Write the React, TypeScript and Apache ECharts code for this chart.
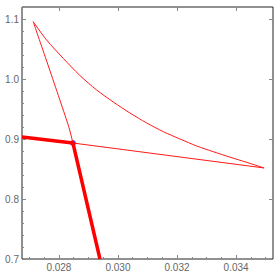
import React, { useEffect, useRef } from "react";
import * as echarts from "echarts";

const xMin = 0.02675;
const xMax = 0.03525;
const yMin = 0.7;
const yMax = 1.12;

const xTickLabels = [0.028, 0.03, 0.032, 0.034];
const yTickLabels = [0.7, 0.8, 0.9, 1.0, 1.1];
const xMinorTicks = [0.027, 0.0275, 0.0285, 0.029, 0.0295, 0.0305, 0.031, 0.0315, 0.0325, 0.033, 0.0335, 0.0345, 0.035];
const yMinorTicks = [0.72, 0.74, 0.76, 0.78, 0.82, 0.84, 0.86, 0.88, 0.92, 0.94, 0.96, 0.98, 1.02, 1.04, 1.06, 1.08, 1.12];

const upperCurve: [number, number][] = [
  [0.027129, 1.0955],
  [0.027583, 1.065],
  [0.028146, 1.0345],
  [0.028712, 1.0058],
  [0.029278, 0.9817],
  [0.029841, 0.9617],
  [0.030407, 0.9433],
  [0.030973, 0.9267],
  [0.031536, 0.9122],
  [0.032102, 0.9],
  [0.032668, 0.8883],
  [0.033231, 0.8788],
  [0.033797, 0.8697],
  [0.034363, 0.861],
  [0.034949, 0.8517],
];
const leftCurve: [number, number][] = [
  [0.027129, 1.0955],
  [0.028315, 0.9233],
  [0.028475, 0.8933],
];
const lowerCurve: [number, number][] = [
  [0.028475, 0.8933],
  [0.034949, 0.8517],
];
const thickCurve: [number, number][] = [
  [0.02675, 0.9033],
  [0.028475, 0.8933],
  [0.02939, 0.7],
];
const bluePoint: [number, number][] = [[0.028475, 0.8933]];

export default function App() {
  const ref = useRef<HTMLDivElement>(null);
  useEffect(() => {
    if (!ref.current) return;
    const chart = echarts.init(ref.current, null, { renderer: "svg" });
    const labelStyle = { color: "#666", fontSize: 10, fontFamily: "Liberation Sans, Arial, sans-serif" };
    const tickLine = { color: "#888", width: 1 };
    chart.setOption({
      animation: false,
      grid: {
        left: 22,
        right: 2,
        top: 7,
        bottom: 13,
        show: true,
        borderColor: "#222",
        borderWidth: 1,
        backgroundColor: "#fff",
      },
      xAxis: [
        {
          type: "value",
          min: xMin,
          max: xMax,
          splitLine: { show: false },
          axisLine: { show: false },
          axisTick: { show: true, inside: true, length: 4, lineStyle: tickLine, customValues: xTickLabels },
          axisLabel: {
            ...labelStyle,
            margin: 3,
            customValues: xTickLabels,
            formatter: (v: number) => v.toFixed(3),
          },
        },
        {
          type: "value",
          min: xMin,
          max: xMax,
          position: "bottom",
          splitLine: { show: false },
          axisLine: { show: false },
          axisTick: { show: true, inside: true, length: 2, lineStyle: tickLine, customValues: xMinorTicks },
          axisLabel: { show: false, customValues: xMinorTicks },
        },
        {
          type: "value",
          min: xMin,
          max: xMax,
          position: "top",
          splitLine: { show: false },
          axisLine: { show: false },
          axisTick: { show: true, inside: true, length: 4, lineStyle: tickLine, customValues: xTickLabels },
          axisLabel: { show: false, customValues: xTickLabels },
        },
      ],
      yAxis: [
        {
          type: "value",
          min: yMin,
          max: yMax,
          splitLine: { show: false },
          axisLine: { show: false },
          axisTick: { show: true, inside: true, length: 4, lineStyle: tickLine, customValues: yTickLabels },
          axisLabel: {
            ...labelStyle,
            margin: 3,
            customValues: yTickLabels,
            formatter: (v: number) => v.toFixed(1),
          },
        },
        {
          type: "value",
          min: yMin,
          max: yMax,
          position: "left",
          splitLine: { show: false },
          axisLine: { show: false },
          axisTick: { show: true, inside: true, length: 2, lineStyle: tickLine, customValues: yMinorTicks },
          axisLabel: { show: false, customValues: yMinorTicks },
        },
        {
          type: "value",
          min: yMin,
          max: yMax,
          position: "right",
          splitLine: { show: false },
          axisLine: { show: false },
          axisTick: { show: true, inside: true, length: 4, lineStyle: tickLine, customValues: yTickLabels },
          axisLabel: { show: false, customValues: yTickLabels },
        },
      ],
      series: [
        {
          type: "line",
          data: upperCurve,
          smooth: 0.3,
          showSymbol: false,
          lineStyle: { color: "#ff1a1a", width: 1 },
          clip: true,
        },
        {
          type: "line",
          data: leftCurve,
          smooth: 0.3,
          showSymbol: false,
          lineStyle: { color: "#ff1a1a", width: 1 },
          clip: true,
        },
        {
          type: "line",
          data: lowerCurve,
          showSymbol: false,
          lineStyle: { color: "#ff1a1a", width: 1 },
          clip: true,
        },
        {
          type: "line",
          data: thickCurve,
          showSymbol: false,
          lineStyle: { color: "#ff0000", width: 3.5 },
          clip: true,
        },
        {
          type: "scatter",
          data: bluePoint,
          symbolSize: 6,
          itemStyle: { color: "#1a1aff" },
        },
      ],
    });
    return () => chart.dispose();
  }, []);
  return (
    <div
      ref={ref}
      style={{ position: "fixed", left: 0, top: 0, width: 275, height: 272, background: "#fff" }}
    />
  );
}
